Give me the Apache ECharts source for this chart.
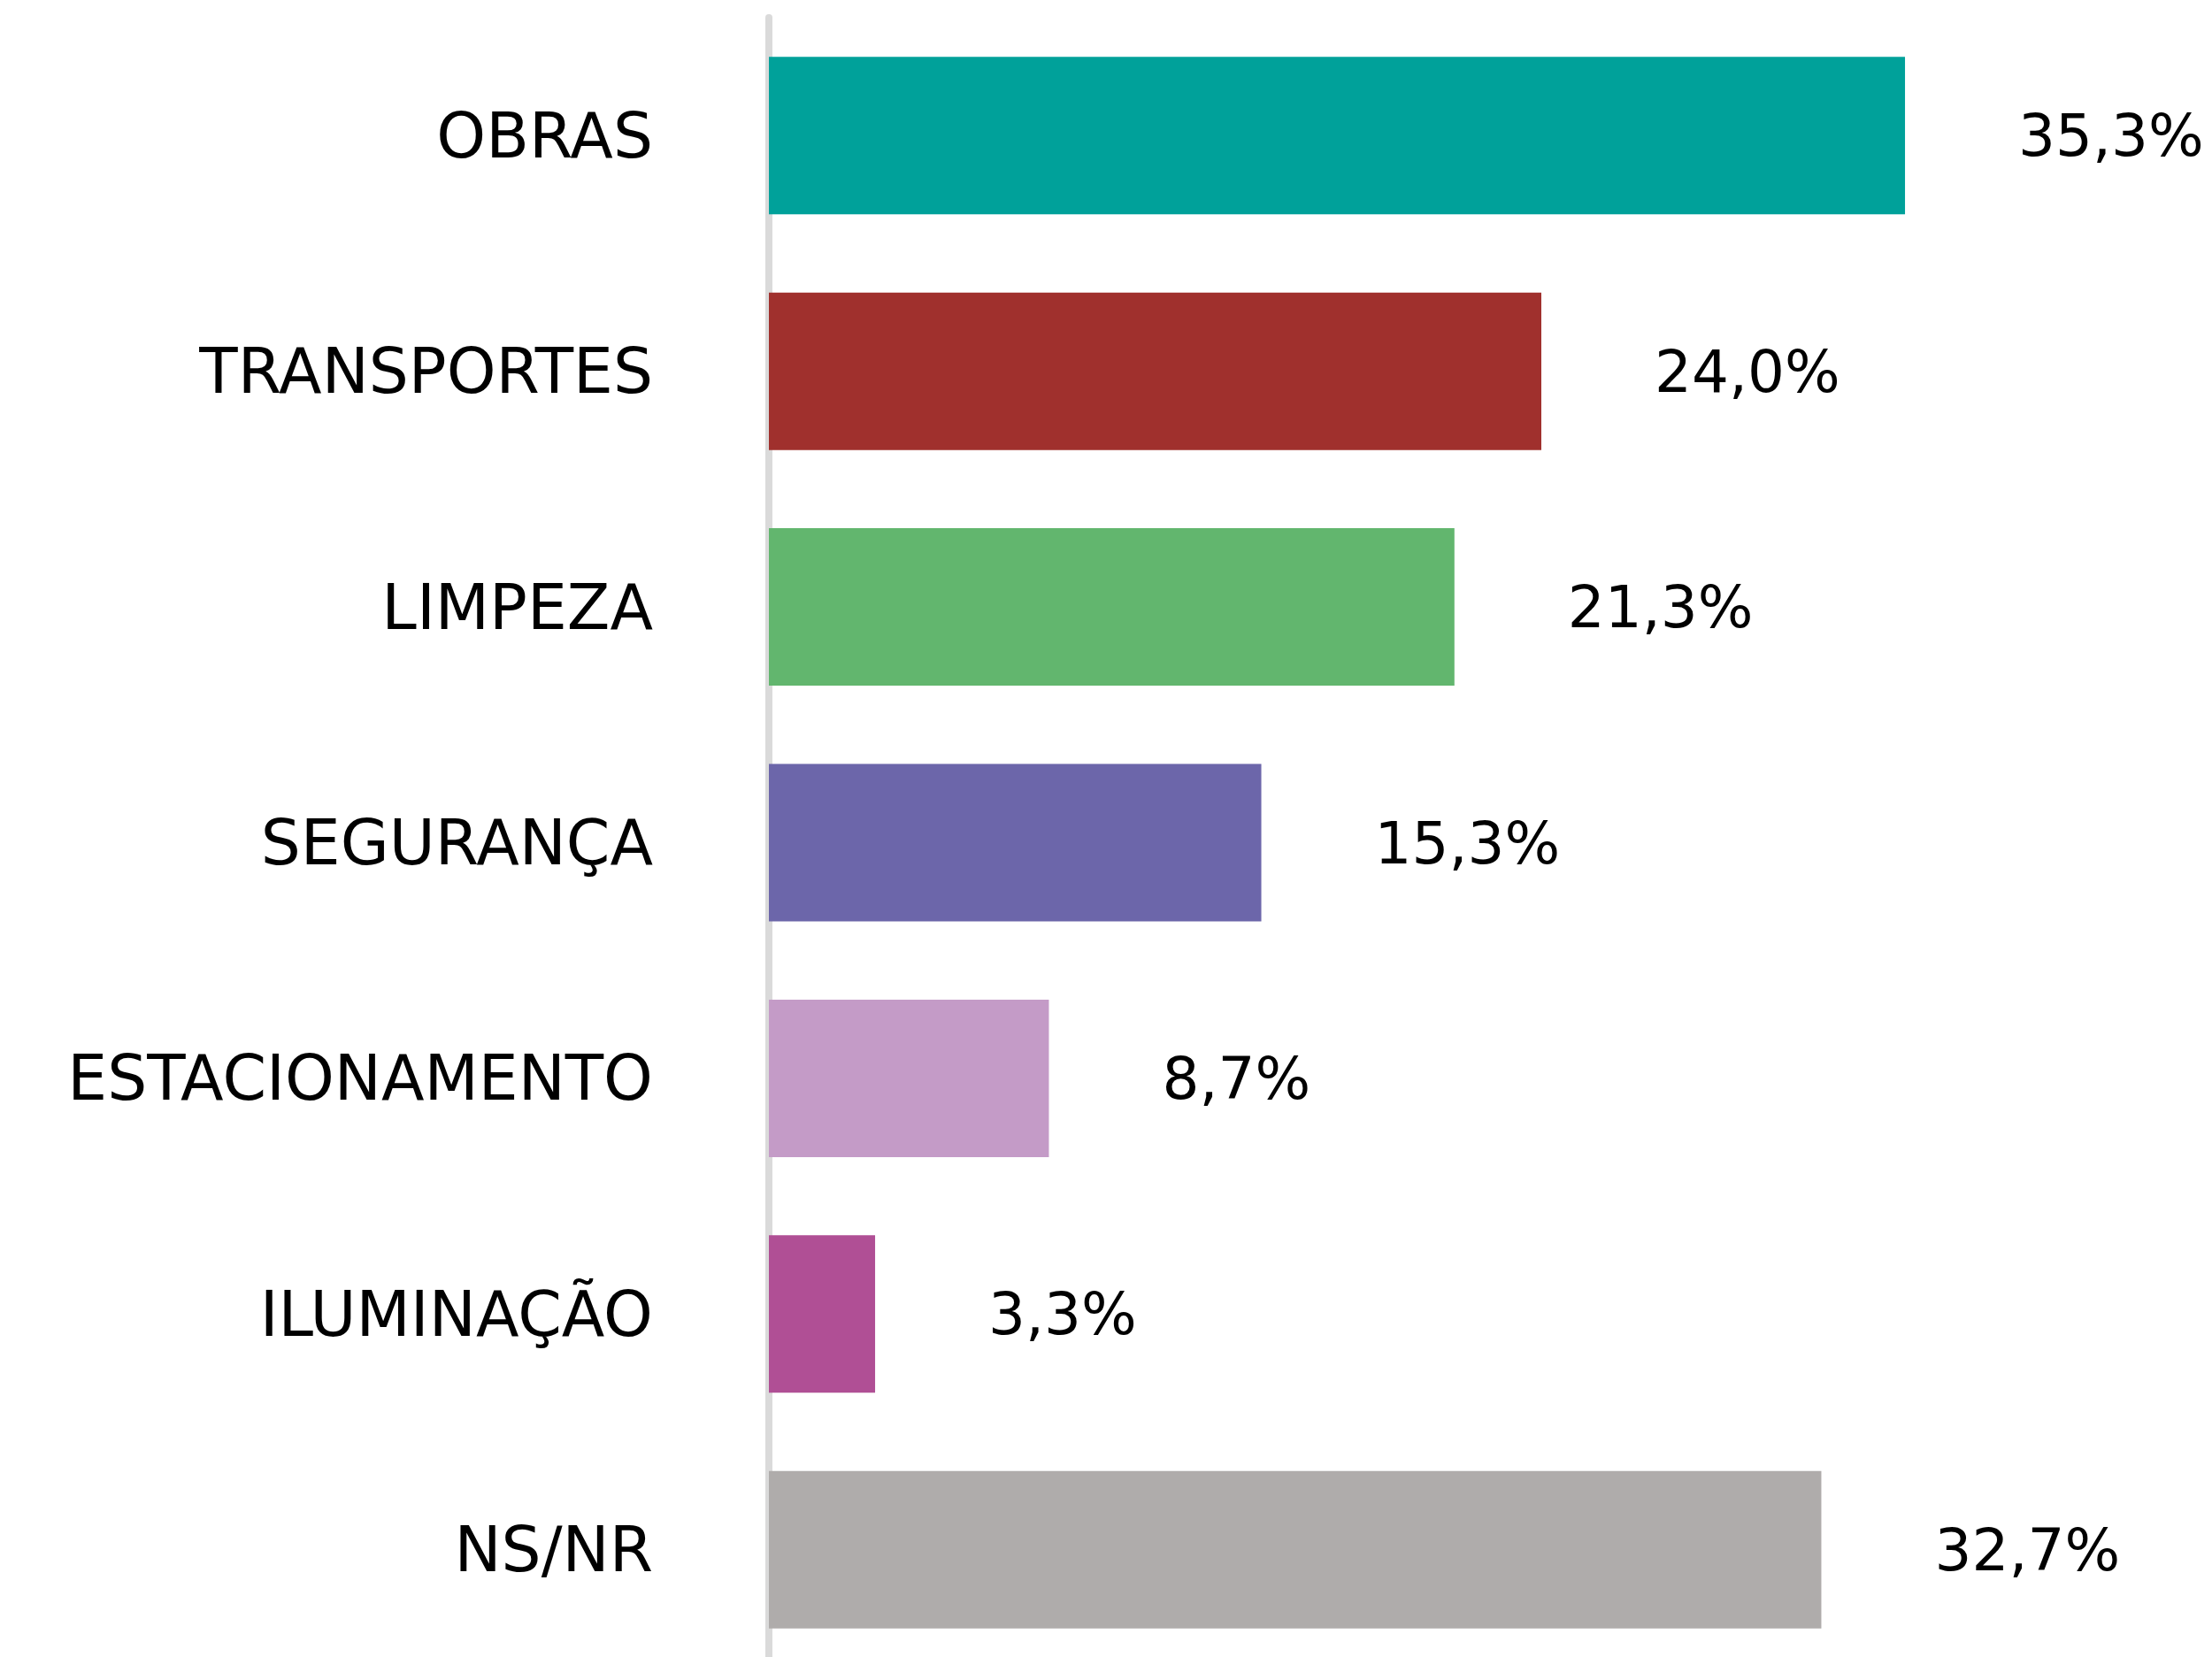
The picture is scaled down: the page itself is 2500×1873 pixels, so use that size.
<!DOCTYPE html>
<html>
<head>
<meta charset="utf-8">
<script src="https://cdn.jsdelivr.net/npm/echarts@6/dist/echarts.min.js"></script>
<style>
  html, body { margin: 0; padding: 0; background: #fff; overflow: hidden; }
  #wrap { width: 2500px; height: 1873px; overflow: hidden; }
  #chart { width: 2500px; height: 1900px; }
</style>
</head>
<body>
<div id="wrap"><div id="chart"></div></div>
<script>
const categories = ['OBRAS', 'TRANSPORTES', 'LIMPEZA', 'SEGURANÇA', 'ESTACIONAMENTO', 'ILUMINAÇÃO', 'NS/NR']
const values = [35.3, 24.0, 21.3, 15.3, 8.7, 3.3, 32.7]
const barColors = ['#00a19a', '#a0302d', '#62b66e', '#6c66aa', '#c49bc7', '#b04f95', '#afacab']

const chart = echarts.init(document.getElementById('chart'))

const fontFamily = '"DejaVu Sans", Lato, sans-serif'

const option = {
  backgroundColor: '#ffffff',
  animation: false,
  grid: {
    left: 869,
    top: 20,
    width: 1455,
    height: 1865
  },
  xAxis: {
    type: 'value',
    min: 0,
    max: 40,
    show: false
  },
  yAxis: {
    type: 'category',
    inverse: true,
    data: categories,
    axisLine: { show: true, lineStyle: { color: '#dadada', width: 8 } },
    axisTick: { show: false },
    axisLabel: {
      margin: 131,
      color: '#000',
      fontFamily: fontFamily,
      fontSize: 71,
      // nudge caps down so they sit centred on the bar
      verticalAlign: 'top',
      lineHeight: 12
    },
    splitLine: { show: false }
  },
  series: [
    {
      type: 'bar',
      barWidth: 178,
      data: values.map((v, i) => ({ value: v, itemStyle: { color: barColors[i] } })),
      label: {
        show: true,
        position: 'right',
        distance: 128,
        offset: [0, 6],
        color: '#000',
        fontFamily: fontFamily,
        fontSize: 66,
        formatter: (p) => p.value.toFixed(1).replace('.', ',') + '%'
      }
    }
  ]
}

chart.setOption(option)
</script>
</body>
</html>
